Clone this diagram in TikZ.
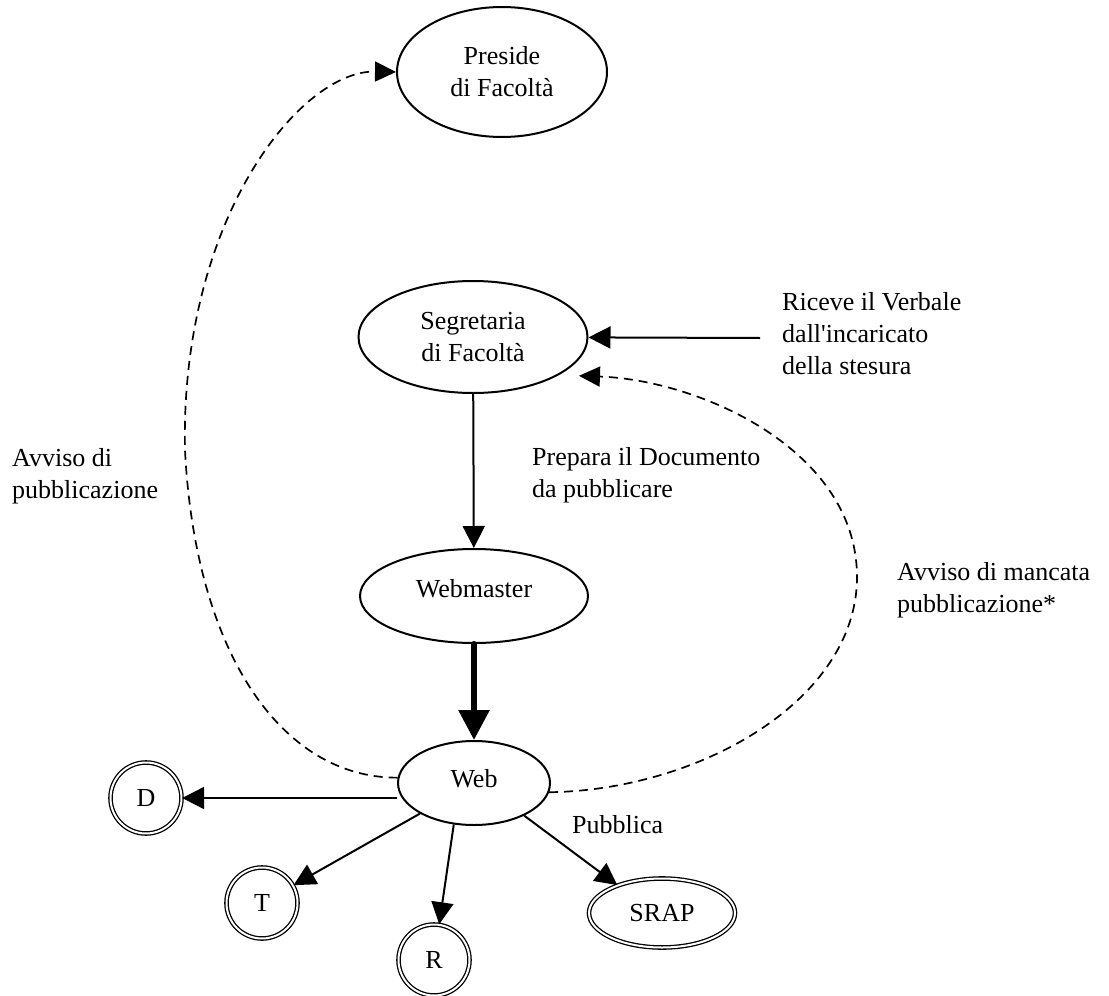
\documentclass[tikz,border=0pt]{standalone}
\usepackage{fontspec}
\setmainfont{Liberation Serif}
\usetikzlibrary{arrows.meta,shapes.geometric}
\begin{document}
\begin{tikzpicture}[x=1pt,y=-1pt,
  every node/.style={font=\fontsize{26}{32}\selectfont},
  actor/.style={ellipse,draw,line width=2pt,inner sep=0pt,align=center},
  outlet/.style={circle,draw,line width=1.3pt,double,double distance=2pt,inner sep=0pt,minimum size=71pt},
  flow/.style={line width=2pt,-{Triangle[length=22pt,width=22pt]}},
  bigflow/.style={line width=6pt,line cap=round,-{Triangle[length=30pt,width=30pt]}},
  notice/.style={line width=1.7pt,dash pattern=on 9pt off 6pt,-{Triangle[length=21pt,width=20pt]}},
  lbl/.style={anchor=base west,align=left,inner sep=0pt}]
\useasboundingbox (0,0) rectangle (1109,996);

% actors
\node[actor,minimum width=210pt,minimum height=130pt] (pres) at (502,72) {Preside\\di Facoltà};
\node[actor,minimum width=229pt,minimum height=112pt] (seg) at (473,337) {Segretaria\\di Facoltà};
\node[actor,minimum width=228pt,minimum height=94pt,text height=17pt,text depth=15pt] (wm) at (474,596) {Webmaster};
\node[actor,minimum width=152pt,minimum height=84pt,text height=17pt,text depth=9pt] (web) at (474,783) {Web};

% publication outlets
\node[outlet] (d) at (146,798) {D};
\node[outlet] (t) at (262,903) {T};
\node[outlet] (r) at (434,960) {R};
\node[ellipse,draw,line width=1.3pt,double,double distance=2pt,inner sep=0pt,
      minimum width=146pt,minimum height=69pt] (srap) at (662,913) {SRAP};

% incoming minutes
\coordinate (src) at (760,338);
\draw[flow] (src) -- (seg);

% main flow
\draw[flow] (seg) -- (wm);
\draw[bigflow] (wm) -- (web);
\draw[flow] (d -| web.west) -- (d);
\draw[flow] (web) -- (t);
\draw[flow] (web.244) -- (r);
\draw[flow] (web.-33) -- (srap.148);

% notifications
\draw[notice] (web.176) .. controls (280,778) and (195,650) .. (185,450)
  .. controls (180,220) and (300,70) .. (pres.west);
\draw[notice] (web.-7) .. controls (700,790) and (857,700) .. (857,577)
  .. controls (857,450) and (700,380) .. ([shift={(13,5)}]seg.-20);

% labels (anchored at the baseline of their last line)
\node[lbl] (lriceve) at (782,374) {Riceve il Verbale\\dall\textquotesingle incaricato\\della stesura};
\node[lbl] (lavviso) at (12,498) {Avviso di\\pubblicazione};
\node[lbl] (lprepara) at (532,497) {Prepara il Documento\\da pubblicare};
\node[lbl] (lmancata) at (897,612) {Avviso di mancata\\pubblicazione*};
\node[lbl] (lpubblica) at (572,833) {Pubblica};
\end{tikzpicture}
\end{document}
